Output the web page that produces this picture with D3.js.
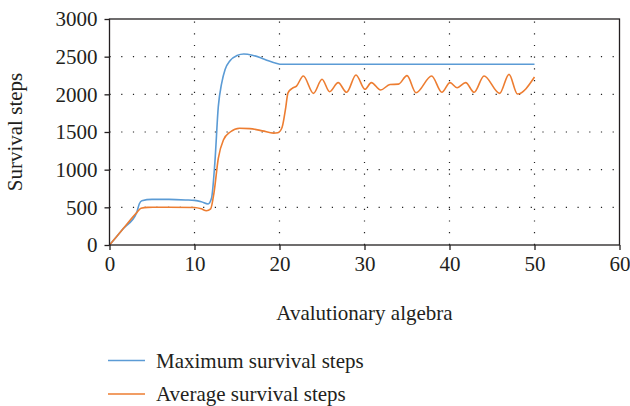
<!DOCTYPE html>
<html>
<head>
<meta charset="utf-8">
<script src="https://cdn.jsdelivr.net/npm/d3@7"></script>
<style>
  html, body { margin: 0; padding: 0; background: #fff; }
  svg { display: block; }
</style>
</head>
<body>
<svg id="chart" width="630" height="406"></svg>
<script>
// ---- data ----
const xTicks = [0, 10, 20, 30, 40, 50, 60];
const yTicks = [0, 500, 1000, 1500, 2000, 2500, 3000];

const maxX = [0, 1.6, 3.2, 3.5, 3.8, 5, 7, 9, 10, 10.8, 11.6, 12.0, 12.4, 12.8, 13.2, 13.6, 14.2, 15, 15.8, 16.8, 17.7, 18.7, 19.7, 20.2, 25, 30, 35, 40, 45, 50];
const maxY = [0, 215, 430, 545, 588, 605, 605, 598, 592, 575, 545, 620, 1100, 1836, 2150, 2330, 2450, 2515, 2535, 2520, 2490, 2445, 2410, 2400, 2400, 2400, 2400, 2400, 2400, 2400];

const avgX = [0, 1.6, 3.2, 3.7, 4.5, 7, 10, 10.8, 11.4, 11.9, 12.3, 12.8, 13.4, 14.2, 15.3, 16.5, 18, 19.3, 19.8, 20.3, 20.7, 21.0, 21.5, 22.0, 22.8, 24.0, 25.0, 25.9, 26.9, 27.9, 29.0, 30.06, 30.8, 31.9, 33, 34, 35.0, 36.06, 37.9, 39.1, 40.06, 40.9, 41.9, 42.9, 44.06, 45.9, 47.0, 48.0, 50];
const avgY = [0, 215, 430, 488, 500, 502, 498, 480, 455, 480, 700, 1150, 1394, 1500, 1550, 1545, 1515, 1485, 1490, 1560, 1800, 2020, 2080, 2110, 2243, 2013, 2200, 2035, 2155, 2027, 2257, 2067, 2155, 2058, 2130, 2135, 2248, 2022, 2243, 2027, 2155, 2088, 2155, 2027, 2243, 2013, 2265, 2005, 2230];

const seriesNames = ["Maximum survival steps", "Average survival steps"];
const seriesColors = ["#5b9bd5", "#ed7d31"];

// ---- layout ----
const FONT = "Liberation Serif, serif";
const FS = 21;
const TXT = "#231f20";
const svg = d3.select("#chart");
const L = 109.5, R = 619.5, T = 19, B = 245;
const x = d3.scaleLinear().domain([0, 60]).range([L, R]);
const y = d3.scaleLinear().domain([0, 3000]).range([B, T]);

// grid
const g = svg.append("g");
g.selectAll(".vg").data(xTicks.filter(d => d > 0 && d < 60)).enter().append("line")
  .attr("x1", d => x(d)).attr("x2", d => x(d)).attr("y1", B).attr("y2", T)
  .attr("stroke", "#222").attr("stroke-width", 1.2).attr("stroke-dasharray", "1.2,10.5");
g.selectAll(".hg").data(yTicks.filter(d => d > 0 && d < 3000)).enter().append("line")
  .attr("x1", L).attr("x2", R).attr("y1", d => y(d)).attr("y2", d => y(d))
  .attr("stroke", "#222").attr("stroke-width", 1.2).attr("stroke-dasharray", "1.2,10.5");

// lines
const line = d3.line().curve(d3.curveMonotoneX).x(d => x(d[0])).y(d => y(d[1]));
const maxData = maxX.map((v, i) => [v, maxY[i]]);
const avgData = avgX.map((v, i) => [v, avgY[i]]);
svg.append("path").datum(maxData).attr("d", line).attr("fill", "none")
  .attr("stroke", seriesColors[0]).attr("stroke-width", 1.6);
svg.append("path").datum(avgData).attr("d", line).attr("fill", "none")
  .attr("stroke", seriesColors[1]).attr("stroke-width", 1.6);

// frame
svg.append("rect").attr("x", L).attr("y", T).attr("width", R - L).attr("height", B - T)
  .attr("fill", "none").attr("stroke", TXT).attr("stroke-width", 1.3);

// axes
const xAxis = svg.append("g").attr("transform", `translate(0,${B})`)
  .call(d3.axisBottom(x).tickValues(xTicks).tickFormat(d3.format("d")).tickSize(5).tickPadding(6));
const yAxis = svg.append("g").attr("transform", `translate(${L},0)`)
  .call(d3.axisLeft(y).tickValues(yTicks).tickFormat(d3.format("d")).tickSize(5).tickPadding(7));
[xAxis, yAxis].forEach(a => {
  a.attr("font-family", FONT).attr("font-size", FS);
  a.select(".domain").remove();
  a.selectAll("line").attr("stroke", TXT).attr("stroke-width", 1.3);
  a.selectAll("text").attr("fill", TXT);
});

// axis titles
svg.append("text").attr("x", (L + R) / 2).attr("y", 320).attr("text-anchor", "middle")
  .attr("font-family", FONT).attr("font-size", FS).attr("fill", TXT).text("Avalutionary algebra");
svg.append("text").attr("transform", `translate(22,${(T + B) / 2}) rotate(-90)`)
  .attr("text-anchor", "middle").attr("font-family", FONT).attr("font-size", FS).attr("fill", TXT)
  .text("Survival steps");

// legend
const legY = [360.5, 394];
seriesNames.forEach((n, i) => {
  svg.append("line").attr("x1", 108).attr("x2", 145).attr("y1", legY[i]).attr("y2", legY[i])
    .attr("stroke", seriesColors[i]).attr("stroke-width", 1.6);
  svg.append("text").attr("x", 156).attr("y", legY[i] + 7)
    .attr("font-family", FONT).attr("font-size", FS).attr("fill", TXT).text(n);
});
</script>
</body>
</html>
